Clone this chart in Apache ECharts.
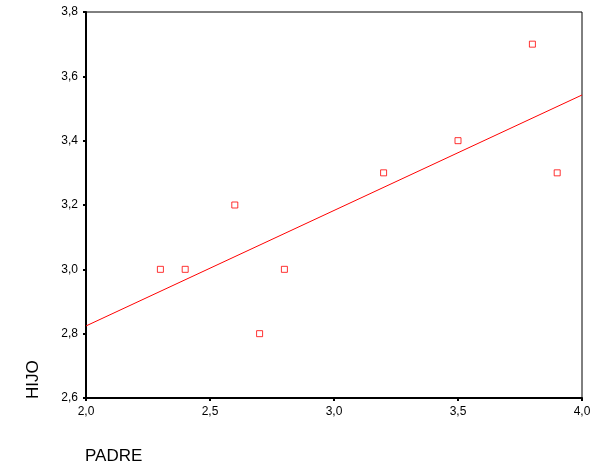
<!DOCTYPE html>
<html>
<head>
<meta charset="utf-8">
<script src="https://cdn.jsdelivr.net/npm/echarts@6/dist/echarts.min.js"></script>
<style>
  html, body { margin: 0; padding: 0; background: #fff; }
  #chart { width: 601px; height: 465px; }
</style>
</head>
<body>
<div id="chart"></div>
<script>
// datos
var padre = [2.3, 2.4, 2.6, 2.7, 2.8, 3.2, 3.5, 3.8, 3.9];
var hijo = [3.0, 3.0, 3.2, 2.8, 3.0, 3.3, 3.4, 3.7, 3.3];
// recta de ajuste (extremos)
var lineaX = [2.0, 4.0];
var lineaY = [2.824, 3.542];

var puntos = padre.map(function (x, i) { return [x, hijo[i]]; });
var recta = lineaX.map(function (x, i) { return [x, lineaY[i]]; });

function coma(v) {
  return v.toFixed(1).replace('.', ',');
}

var myChart = echarts.init(document.getElementById('chart'));

var option = {
  animation: false,
  grid: {
    left: 86, right: 19, top: 12, bottom: 67,
    show: true,
    borderColor: '#000',
    borderWidth: 1
  },
  xAxis: {
    type: 'value',
    min: 2.0, max: 4.0, interval: 0.5,
    axisLine: { show: true, lineStyle: { color: '#000', width: 2 } },
    axisTick: { show: true, length: 3, lineStyle: { color: '#000', width: 2 } },
    axisLabel: { color: '#000', fontFamily: 'Liberation Sans, Arial', fontSize: 12, margin: 8, formatter: coma },
    splitLine: { show: false }
  },
  yAxis: {
    type: 'value',
    min: 2.6, max: 3.8, interval: 0.2,
    axisLine: { show: true, lineStyle: { color: '#000', width: 2 } },
    axisTick: { show: true, length: 3, lineStyle: { color: '#000', width: 2 } },
    axisLabel: { color: '#000', fontFamily: 'Liberation Sans, Arial', fontSize: 12, margin: 8, formatter: coma },
    splitLine: { show: false }
  },
  graphic: [
    {
      type: 'text', left: 85, top: 448,
      style: { text: 'PADRE', fill: '#000', font: '17px Liberation Sans, Arial' }
    },
    {
      type: 'text', x: 25, y: 399, rotation: Math.PI / 2,
      style: { text: 'HIJO', fill: '#000', font: '17px Liberation Sans, Arial' }
    }
  ],
  series: [
    {
      type: 'line',
      data: recta,
      showSymbol: false,
      lineStyle: { color: '#ff0000', width: 1 },
      z: 2
    },
    {
      type: 'scatter',
      data: puntos,
      symbol: 'rect',
      symbolSize: 6,
      itemStyle: { color: '#fff', borderColor: '#ff0000', borderWidth: 1 },
      z: 3
    }
  ]
};

myChart.setOption(option);
</script>
</body>
</html>
